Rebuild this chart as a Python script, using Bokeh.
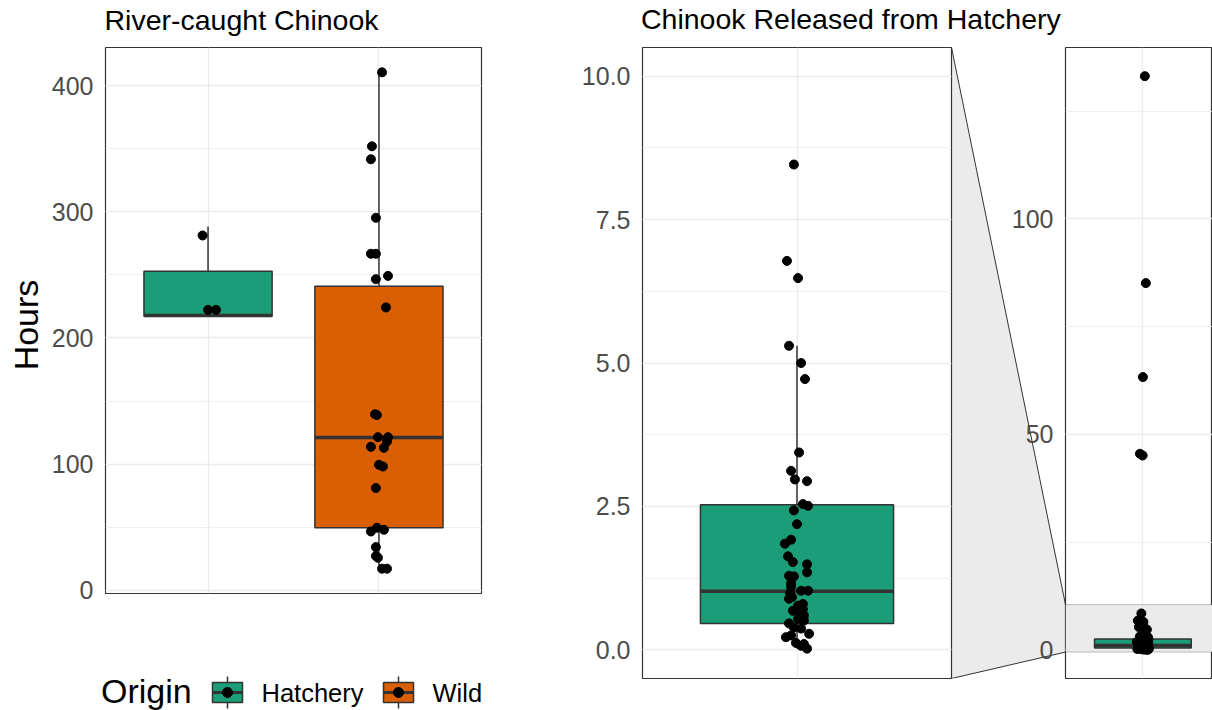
import math
from bokeh.plotting import figure
from bokeh.models import (ColumnDataSource, Range1d, SingleIntervalTicker, FixedTicker,
                          NumeralTickFormatter, Label, BoxAnnotation, Row)
from bokeh.embed import file_html
from bokeh.resources import INLINE

# ---------------- data ----------------
origins = ["Hatchery", "Wild"]
origin_colors = ["#1B9E77", "#D95F02"]

# River-caught Chinook: boxplot statistics (hours)
river_lower = [217.3, 17.2]
river_q1 = [217.3, 49.6]
river_median = [217.8, 121.2]
river_q3 = [252.9, 241.0]
river_upper = [288.3, 410.5]

# River-caught Chinook: individual fish (hours) and horizontal jitter (category units)
river_hatchery_hours = [281.2, 222.3, 222.3]
river_hatchery_jitter = [-0.032, 0.0, 0.047]
river_wild_hours = [410.5, 351.9, 341.6, 295.2, 266.7, 266.7, 249.2, 246.6, 224.2,
                    139.6, 139.0, 121.4, 121.4, 118.0, 113.8, 113.0, 99.5, 98.2, 81.1,
                    49.6, 48.0, 46.7, 34.3, 27.2, 25.9, 17.2, 17.2]
river_wild_jitter = [0.018, -0.041, -0.047, -0.018, -0.047, -0.018, 0.053, -0.018, 0.041,
                     -0.023, -0.012, -0.006, 0.053, 0.047, -0.047, 0.029, 0.0, 0.023, -0.018,
                     -0.012, 0.029, -0.047, -0.018, -0.018, -0.006, 0.018, 0.047]

# Chinook released from hatchery: boxplot statistics (hours)
released_lower = [0.02]
released_q1 = [0.46]
released_median = [1.02]
released_q3 = [2.53]
released_upper = [5.30]

released_hours = [8.46, 6.78, 6.48, 5.30, 5.00, 4.72, 3.44, 3.12, 2.97, 2.94, 2.54, 2.51,
                  2.43, 2.19, 1.92, 1.85, 1.63, 1.53, 1.49, 1.35, 1.29, 1.28, 1.16, 1.10,
                  1.03, 1.03, 0.99, 0.92, 0.89, 0.80, 0.77, 0.71, 0.68, 0.63, 0.60, 0.54,
                  0.51, 0.46, 0.39, 0.37, 0.28, 0.25, 0.22, 0.12, 0.10, 0.07, 0.02,
                  45.1, 45.5, 63.3, 85.1, 133.1]
released_jitter = [-0.012, -0.039, 0.004, -0.031, 0.016, 0.031, 0.008, -0.023, -0.008, 0.039,
                   0.023, 0.043, -0.012, 0.0, -0.023, -0.047, -0.035, -0.016, 0.039, 0.039,
                   -0.031, -0.012, -0.023, -0.023, 0.043, 0.016, -0.027, -0.019, -0.031, 0.023,
                   0.004, 0.023, -0.016, 0.016, 0.027, 0.004, 0.027, -0.031, -0.012, 0.016,
                   0.047, -0.023, -0.043, -0.004, 0.027, 0.016, 0.039,
                   -0.002, -0.023, 0.0, 0.023, 0.015]

zoom_ylim = (0, 10)

titles = ["River-caught Chinook", "Chinook Released from Hatchery"]
y_title = "Hours"
legend_title = "Origin"

# ---------------- styling / layout ----------------
W, H = 1212, 710
FONT = "Liberation Sans"
BORDER = "#333333"
GRID = "#EBEBEB"
BOX_W = 0.75
EXPAND = 0.05
MID_TO_BASE = 0.3465   # distance (in em) from the text middle to its baseline


def expand(lo, hi, frac=EXPAND):
    pad = (hi - lo) * frac
    return lo - pad, hi + pad


def canvas(x_range, y_range, left, top, right_edge, bottom_edge, **kw):
    """A full-window, transparent canvas whose frame sits at the given pixel box."""
    p = figure(frame_width=right_edge - left, frame_height=bottom_edge - top,
               x_range=x_range, y_range=y_range,
               output_backend="svg", toolbar_location=None,
               min_border_left=left, min_border_top=top,
               min_border_right=W - right_edge, min_border_bottom=H - bottom_edge, **kw)
    if "frame_align" in p.properties():
        p.frame_align = False
    p.background_fill_color = None
    p.border_fill_color = None
    return p


def base_fig(x_range, y_range, left, top, right_edge, bottom_edge):
    p = canvas(x_range, y_range, left, top, right_edge, bottom_edge, x_axis_location=None)
    p.outline_line_color = BORDER
    p.outline_line_width = 1.2
    p.yaxis.axis_line_color = None
    p.yaxis.major_tick_out = 0
    p.yaxis.major_tick_in = 0
    p.yaxis.minor_tick_out = 0
    p.yaxis.minor_tick_in = 0
    p.yaxis.major_label_standoff = 12
    p.yaxis.major_label_text_font = FONT
    p.yaxis.major_label_text_font_size = "25px"
    p.yaxis.major_label_text_color = "#4D4D4D"
    p.xgrid.grid_line_color = GRID
    p.xgrid.grid_line_width = 1.3
    p.ygrid.grid_line_color = GRID
    p.ygrid.grid_line_width = 1.3
    p.ygrid.minor_grid_line_color = GRID
    p.ygrid.minor_grid_line_width = 0.8
    return p


def box_source(positions, lower, q1, med, q3, upper, colors):
    return ColumnDataSource(dict(
        pos=positions, lower=lower, q1=q1, med=med, q3=q3, upper=upper,
        left=[x - BOX_W / 2 for x in positions], right=[x + BOX_W / 2 for x in positions],
        color=colors))


def draw_box(p, src):
    p.segment(x0="pos", y0="q3", x1="pos", y1="upper", source=src, line_color=BORDER, line_width=1.5)
    p.segment(x0="pos", y0="q1", x1="pos", y1="lower", source=src, line_color=BORDER, line_width=1.5)
    p.vbar(x="pos", width=BOX_W, bottom="q1", top="q3", source=src,
           fill_color="color", line_color=BORDER, line_width=1.5)
    p.segment(x0="left", y0="med", x1="right", y1="med", source=src,
              line_color=BORDER, line_width=3.5)


# ---------------- left panel: River-caught ----------------
cat_pos = [i + 1 for i in range(len(origins))]
all_river = river_hatchery_hours + river_wild_hours + river_lower + river_upper
yL = Range1d(*expand(min(all_river), max(all_river)))
xL = Range1d(0.4, len(origins) + 0.6)
L_left, L_top, L_right, L_bottom = 105, 47, 481, 593
pL = base_fig(xL, yL, L_left, L_top, L_right, L_bottom)
pL.border_fill_color = "white"
pL.yaxis.ticker = SingleIntervalTicker(interval=100, num_minor_ticks=2)
pL.xgrid.ticker = FixedTicker(ticks=cat_pos)

river_box = box_source(cat_pos, river_lower, river_q1, river_median, river_q3, river_upper, origin_colors)
draw_box(pL, river_box)
river_pts = ColumnDataSource(dict(
    x=[cat_pos[0] + j for j in river_hatchery_jitter] + [cat_pos[1] + j for j in river_wild_jitter],
    y=river_hatchery_hours + river_wild_hours))
pL.scatter(x="x", y="y", source=river_pts, size=9, color="black")

# ---------------- middle panel: zoomed hatchery release ----------------
rel_pos = [1]
yM = Range1d(*expand(*zoom_ylim))
xM = Range1d(0.4, 1.6)
M_left, M_top, M_right, M_bottom = 642, 47, 951, 678
pM = base_fig(xM, yM, M_left, M_top, M_right, M_bottom)
pM.yaxis.ticker = SingleIntervalTicker(interval=2.5, num_minor_ticks=2)
pM.yaxis.formatter = NumeralTickFormatter(format="0.0")
pM.xgrid.ticker = FixedTicker(ticks=rel_pos)

rel_box = box_source(rel_pos, released_lower, released_q1, released_median, released_q3,
                     released_upper, [origin_colors[0]])
rel_pts = ColumnDataSource(dict(x=[rel_pos[0] + j for j in released_jitter], y=released_hours))
draw_box(pM, rel_box)
pM.scatter(x="x", y="y", source=rel_pts, size=9, color="black")

# ---------------- right panel: full range ----------------
yR = Range1d(*expand(min(released_hours + released_lower), max(released_hours + released_upper)))
R_left, R_top, R_right, R_bottom = 1065, 47, W, 678
R_px_per_unit = 129.0
xR = Range1d(0.4, 0.4 + (R_right - R_left) / R_px_per_unit)
pR = base_fig(xR, yR, R_left, R_top, R_right, R_bottom)
pR.yaxis.ticker = SingleIntervalTicker(interval=50, num_minor_ticks=2)
pR.xgrid.ticker = FixedTicker(ticks=rel_pos)
pR.add_layout(BoxAnnotation(bottom=yM.start, top=yM.end, fill_color=GRID, fill_alpha=1,
                            line_color=BORDER, line_width=1, level="underlay"))
draw_box(pR, rel_box)
pR.scatter(x="x", y="y", source=rel_pts, size=9, color="black")

# ---------------- connector between zoom and full panels ----------------
pC = canvas(Range1d(0, 1), Range1d(yR.start, yR.end), M_right, M_top, R_left, M_bottom,
            x_axis_location=None, y_axis_location=None)
pC.outline_line_color = None
pC.grid.visible = False
pC.patch(x=[0, 1, 1, 0], y=[yR.end, yM.end, yM.start, yR.start], fill_color=GRID, line_color=None)
pC.segment(x0=[0, 0], y0=[yR.end, yR.start], x1=[1, 1], y1=[yM.end, yM.start],
           line_color=BORDER, line_width=1)

# ---------------- overlay for titles, axis title and legend (pixel coordinates) ----------------
pT = canvas(Range1d(0, W), Range1d(H, 0), 0, 0, W, H,
            x_axis_location=None, y_axis_location=None)
pT.outline_line_color = None
pT.grid.visible = False


def txt(x, y_base, text, size_px, angle=0.0, align="left"):
    """Text whose baseline sits at y_base (for rotated text: at x)."""
    off = MID_TO_BASE * size_px
    if angle:
        x, y = x - off, y_base
    else:
        y = y_base - off
    pT.add_layout(Label(x=x, y=y, text=text, angle=angle, text_align=align,
                        text_baseline="middle", text_font=FONT,
                        text_font_size=f"{size_px}px", text_color="black"))


txt(L_left - 1, 29.3, titles[0], 28.5)
txt(M_left - 1.5, 28.8, titles[1], 28.5)
txt(37.5, 324.5, y_title, 34, angle=math.pi / 2, align="center")

# legend: "Origin" + one key per origin (box, median, whisker, point) + label
LEG_BASE = 702.5
txt(100.5, LEG_BASE, legend_title, 34)
key_x0, key_step, key_w, key_h = 227, 171, 30, 20
key_cx = [key_x0 + i * key_step for i in range(len(origins))]
key_cy = [LEG_BASE - 10.5] * len(origins)
keys = ColumnDataSource(dict(
    cx=key_cx, cy=key_cy, color=origin_colors,
    x0=[c - key_w / 2 for c in key_cx], x1=[c + key_w / 2 for c in key_cx],
    w0=[c - 16 for c in key_cy], w1=[c + 16 for c in key_cy]))
pT.segment(x0="cx", y0="w0", x1="cx", y1="w1", source=keys, line_color=BORDER, line_width=1.5)
pT.rect(x="cx", y="cy", width=key_w, height=key_h, source=keys, fill_color="color",
        line_color=BORDER, line_width=1.5)
pT.segment(x0="x0", y0="cy", x1="x1", y1="cy", source=keys, line_color=BORDER, line_width=3)
pT.scatter(x="cx", y="cy", source=keys, size=10, color="black")
for i, name in enumerate(origins):
    txt(key_cx[i] + key_w / 2 + 19, LEG_BASE - 1, name, 25.5)

# stack the full-size, transparent canvases on top of each other
for fig in (pC, pM, pR, pT):
    fig.margin = (0, 0, 0, -W)
layout = Row(children=[pL, pC, pM, pR, pT], spacing=0)
open("out.html", "w").write(file_html(layout, INLINE))
